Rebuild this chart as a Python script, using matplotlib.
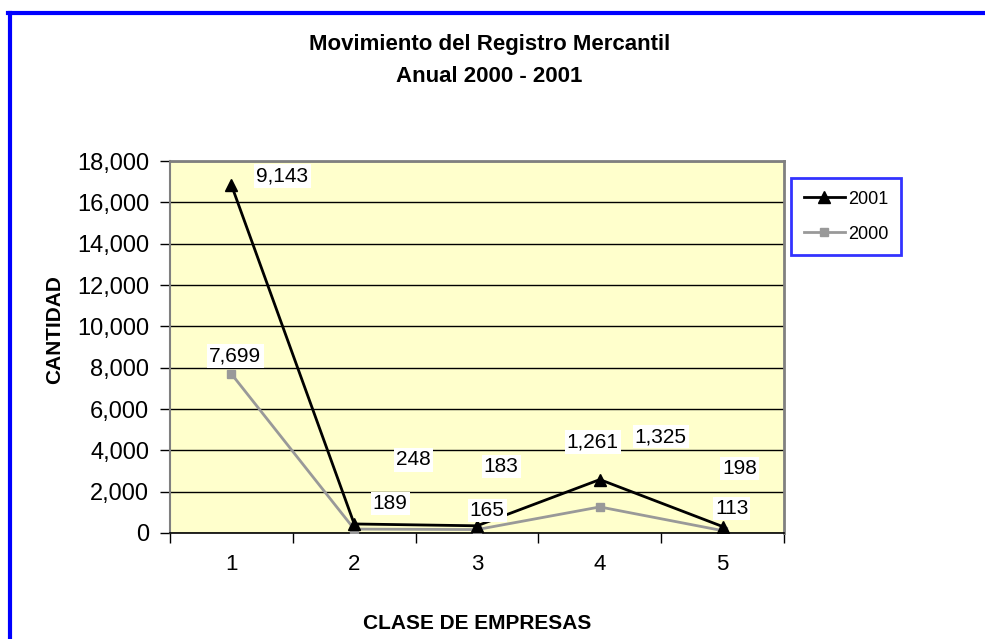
import numpy as np
import matplotlib.pyplot as plt
from matplotlib.lines import Line2D

# datos (el grafico original es de lineas apiladas: 2001 se dibuja sobre 2000)
clases = [1, 2, 3, 4, 5]
valores_2000 = [7699, 189, 165, 1261, 113]
valores_2001 = [9143, 248, 183, 1325, 198]
ticks_y = [0, 2000, 4000, 6000, 8000, 10000, 12000, 14000, 16000, 18000]

# desplazamiento de las etiquetas (pixeles) respecto de cada punto
off_2000 = [(4, 18), (36, 26), (10, 19), (-7, 65), (9, 22)]
off_2001 = [(51, 9), (59, 64), (24, 59), (61, 43), (17, 58)]

plt.rcParams["font.family"] = ["Liberation Sans", "DejaVu Sans"]

base = np.array(valores_2000)
apilado = base + np.array(valores_2001)

fig = plt.figure(figsize=(9.85, 6.39), dpi=100)
ax = fig.add_axes([0.1726, 0.1659, 0.6234, 0.582])
ax.set_facecolor("#FFFFCC")

ax.plot(clases, apilado, color="black", lw=2, marker="^", ms=8, label="2001", zorder=4)
ax.plot(clases, base, color="#999999", lw=2, marker="s", ms=6, label="2000", zorder=3)

caja = dict(boxstyle="square,pad=0.1", fc="white", ec="none")
for x, y, v, (dx, dy) in zip(clases, base, valores_2000, off_2000):
    ax.annotate(f"{v:,}", (x, y), xytext=(dx, dy), textcoords="offset pixels",
                ha="center", va="center", fontsize=15, bbox=caja, zorder=5)
for x, y, v, (dx, dy) in zip(clases, apilado, valores_2001, off_2001):
    ax.annotate(f"{v:,}", (x, y), xytext=(dx, dy), textcoords="offset pixels",
                ha="center", va="center", fontsize=15, bbox=caja, zorder=5)

ax.set_xlim(0.5, 5.5)
ax.set_ylim(0, 18000)
ax.set_yticks(ticks_y)
ax.set_yticklabels([f"{t:,}" for t in ticks_y])
ax.set_xticks(clases)
ax.set_xticks(np.arange(0.5, 6, 1), minor=True)
ax.tick_params(axis="x", which="major", length=0, pad=15, labelsize=16)
ax.tick_params(axis="x", which="minor", length=7, width=1, direction="out")
ax.tick_params(axis="y", length=7, width=1, direction="out", pad=8, labelsize=17)
ax.grid(True, axis="y", color="black", lw=1)
ax.set_axisbelow(True)

for lado in ["top", "right"]:
    ax.spines[lado].set_color("#808080")
    ax.spines[lado].set_linewidth(2)
ax.spines["left"].set_color("#808080")
ax.spines["left"].set_linewidth(1.5)
ax.spines["bottom"].set_color("black")
ax.spines["bottom"].set_linewidth(1.2)

fig.text(0.497, 0.931, "Movimiento del Registro Mercantil", ha="center", va="center",
         fontsize=16, fontweight="bold")
fig.text(0.497, 0.881, "Anual 2000 - 2001", ha="center", va="center",
         fontsize=16, fontweight="bold")
fig.text(0.0558, 0.4836, "CANTIDAD", rotation=90, ha="center", va="center",
         fontsize=15, fontweight="bold")
fig.text(0.484, 0.0235, "CLASE DE EMPRESAS", ha="center", va="center",
         fontsize=15, fontweight="bold")

leg = fig.legend(loc="upper left", bbox_to_anchor=(791 / 985, 1 - 178 / 639),
                 fontsize=13, frameon=True, fancybox=False, handlelength=2.3,
                 borderpad=0.7, labelspacing=1.0, handletextpad=0.15, borderaxespad=0)
leg.get_frame().set_edgecolor("blue")
leg.get_frame().set_linewidth(2)

# marco azul del area del grafico (solo se ven el borde superior e izquierdo)
fig.add_artist(Line2D([9.5 / 985, 9.5 / 985], [0, 1 - 13 / 639], color="blue", lw=3,
                      transform=fig.transFigure))
fig.add_artist(Line2D([8 / 985, 1], [1 - 13 / 639, 1 - 13 / 639], color="blue", lw=3,
                      transform=fig.transFigure))

fig.savefig("out.png", dpi=100)
